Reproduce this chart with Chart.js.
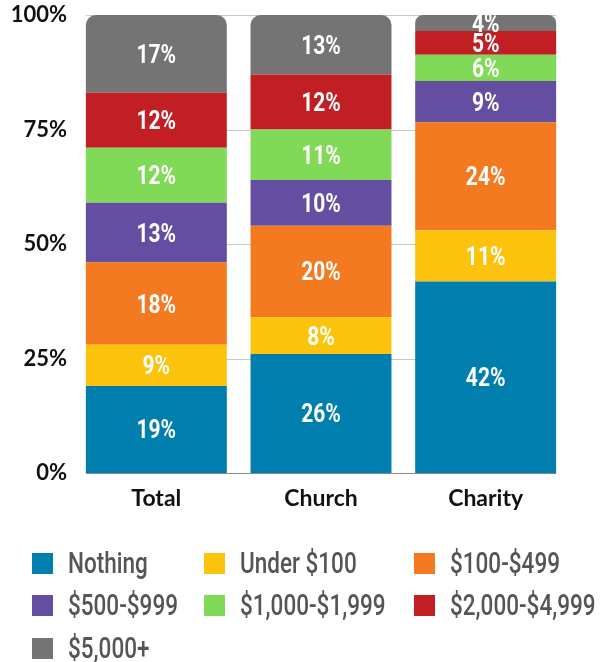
<!DOCTYPE html>
<html>
<head>
<meta charset="utf-8">
<script src="https://cdn.jsdelivr.net/npm/chart.js@4.4.1/dist/chart.umd.min.js"></script>
<style>
  body { margin: 0; background: #fff; }
  #wrap { position: relative; width: 601px; height: 662px; }
  #legend { position: absolute; left: 0; top: 0; width: 601px; height: 662px; }
  .item { position: absolute; display: flex; align-items: center; height: 21px; }
  .box { width: 21px; height: 21px; flex: none; }
  .lbl {
    font-family: Roboto, sans-serif; font-size: 30px; font-weight: 500; color: #555;
    line-height: 21px; margin-left: 15px; white-space: nowrap;
    transform: scaleX(0.75) translateY(-1px); transform-origin: left center;
  }
</style>
</head>
<body>
<div id="wrap">
  <canvas id="chart" width="601" height="520"></canvas>
  <div id="legend"></div>
</div>
<script>
// categories and series (share of respondents, %)
const categories = ["Total", "Church", "Charity"];
const seriesNames = ["Nothing", "Under $100", "$100-$499", "$500-$999", "$1,000-$1,999", "$2,000-$4,999", "$5,000+"];
const nothing = [19, 26, 41.8];
const under100 = [9, 8, 11.2];
const from100 = [18, 20, 23.6];
const from500 = [13, 10, 9];
const from1000 = [12, 11, 5.7];
const from2000 = [12, 12, 5.2];
const from5000 = [17, 13, 3.5];
const yTicks = [0, 25, 50, 75, 100];

const colors = ["#007fae", "#fbc30c", "#f37a21", "#644ea2", "#80d957", "#c21f25", "#747474"];
const seriesValues = [nothing, under100, from100, from500, from1000, from2000, from5000];

// gridlines only as wide as the bars
const gridLines = {
    id: "gridLines",
    beforeDatasetsDraw(chart) {
        const ctx = chart.ctx, yScale = chart.scales.y;
        const bars = chart.getDatasetMeta(0).data;
        const x0 = bars[0].x - bars[0].width / 2;
        const x1 = bars[bars.length - 1].x + bars[bars.length - 1].width / 2;
        ctx.save();
        ctx.lineWidth = 1;
        yTicks.forEach((t) => {
            const y = Math.round(yScale.getPixelForValue(t)) + 0.5;
            ctx.strokeStyle = t === 0 ? "#8a8a8a" : "#c8c8c8";
            ctx.beginPath();
            ctx.moveTo(x0, y);
            ctx.lineTo(x1, y);
            ctx.stroke();
        });
        ctx.restore();
    },
};

// white percent labels in the middle of each segment
const barLabels = {
    id: "barLabels",
    afterDatasetsDraw(chart) {
        const ctx = chart.ctx;
        ctx.save();
        ctx.fillStyle = "#fff";
        ctx.font = "bold 25px Roboto";
        ctx.textAlign = "center";
        ctx.textBaseline = "alphabetic";
        chart.data.datasets.forEach((ds, i) => {
            chart.getDatasetMeta(i).data.forEach((bar, j) => {
                const y = (bar.y + bar.base) / 2;
                ctx.save();
                ctx.translate(bar.x, y + 9);
                ctx.scale(0.84, 1.04);
                ctx.fillText(Math.round(ds.data[j]) + "%", 0, 0);
                ctx.restore();
            });
        });
        ctx.restore();
    },
};

new Chart(document.getElementById("chart"), {
    type: "bar",
    plugins: [gridLines, barLabels],
    data: {
        labels: categories,
        datasets: seriesNames.map((name, i) => ({
            label: name,
            data: seriesValues[i],
            backgroundColor: colors[i],
            borderWidth: 0,
            borderRadius: i === seriesNames.length - 1 ? { topLeft: 10, topRight: 10, bottomLeft: 0, bottomRight: 0 } : 0,
            borderSkipped: false,
            categoryPercentage: 1,
            barPercentage: 0.856,
        })),
    },
    options: {
        responsive: false,
        animation: false,
        layout: { padding: { top: 15, right: 33, left: 0, bottom: 0 } },
        plugins: { legend: { display: false }, tooltip: { enabled: false } },
        scales: {
            x: {
                stacked: true,
                grid: { display: false, drawTicks: false },
                border: { display: false },
                ticks: { color: "#111", padding: 12, font: { family: "Lato", weight: "bold", size: 23 } },
                afterFit: (scale) => {
                    scale.height = 47;
                    scale.paddingLeft = 0;
                    scale.paddingRight = 0;
                },
            },
            y: {
                stacked: true,
                min: 0,
                max: 100,
                afterBuildTicks: (scale) => { scale.ticks = yTicks.map((v) => ({ value: v })); },
                grid: { display: false, drawTicks: false },
                border: { display: false },
                ticks: {
                    color: "#111",
                    padding: 7,
                    font: { family: "Lato", weight: "bold", size: 22 },
                    callback: (v) => v + "%",
                },
                afterFit: (scale) => {
                    scale.width = 74;
                    scale.paddingTop = 0;
                    scale.paddingBottom = 0;
                },
            },
        },
    },
});

// legend in three columns
const legend = document.getElementById("legend");
const colX = [32, 204, 414];
const rowY = [553, 595, 638];
seriesNames.forEach((name, i) => {
    const item = document.createElement("div");
    item.className = "item";
    item.style.left = colX[i % 3] + "px";
    item.style.top = rowY[Math.floor(i / 3)] + "px";
    item.innerHTML = '<div class="box" style="background:' + colors[i] + '"></div><span class="lbl">' + name + "</span>";
    legend.appendChild(item);
});
</script>
</body>
</html>
